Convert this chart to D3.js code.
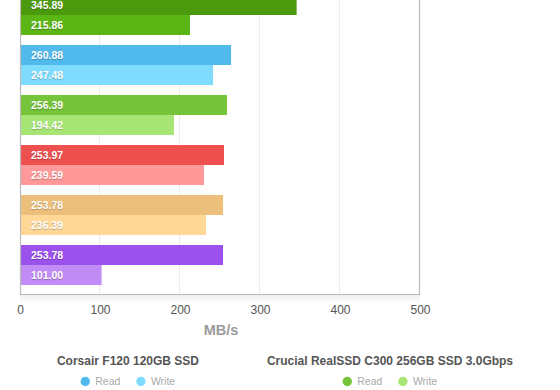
<!DOCTYPE html>
<html>
<head>
<meta charset="utf-8">
<script src="https://cdn.jsdelivr.net/npm/d3@7"></script>
<style>
  html, body { margin: 0; padding: 0; background: #fff; }
  svg { display: block; font-family: "Liberation Sans", Arial, Helvetica, sans-serif; }
  .barlabel { text-shadow: 0 1px 1px rgba(0,0,0,0.25); }
</style>
</head>
<body>
<svg id="chart" width="560" height="390"></svg>
<script>
// ---- data ----
const categories = ["Drive A", "Corsair F120 120GB SSD", "Crucial RealSSD C300 256GB SSD 3.0Gbps", "Drive D", "Drive E", "Drive F"];
const readValues  = [345.8, 263.8, 258.8, 255.0, 253.8, 253.8];
const writeValues = [212.5, 241.3, 192.5, 230.0, 232.5, 102.0];
const readLabels  = ["345.89", "260.88", "256.39", "253.97", "253.78", "253.78"];
const writeLabels = ["215.86", "247.48", "194.42", "239.59", "236.39", "101.00"];
const readColors  = ["#4b9a0e", "#4fbaeb", "#75c43a", "#ee5050", "#ecc07b", "#9b51ec"];
const writeColors = ["#5ab515", "#80dcff", "#a7e675", "#ff9898", "#ffd898", "#c28cf6"];
const xTicks = [0, 100, 200, 300, 400, 500];
const axisTitle = "MB/s";
const legendGroups = [
  { title: "Corsair F120 120GB SSD", index: 1 },
  { title: "Crucial RealSSD C300 256GB SSD 3.0Gbps", index: 2 }
];
const seriesNames = ["Read", "Write"];

// ---- layout ----
const left = 20, right = 420, bottom = 294;
const svg = d3.select("#chart");

const x = d3.scaleLinear().domain([0, 500]).range([left, right]);
const y = d3.scaleBand().domain(categories).range([-10, 290]).paddingInner(0.2).paddingOuter(0.1);
const sub = d3.scaleBand().domain(seriesNames).range([0, y.bandwidth()]);

// shadow below plot
const defs = svg.append("defs");
const grad = defs.append("linearGradient").attr("id", "shadow").attr("x1", 0).attr("y1", 0).attr("x2", 0).attr("y2", 1);
grad.append("stop").attr("offset", "0%").attr("stop-color", "#ececec");
grad.append("stop").attr("offset", "100%").attr("stop-color", "#ffffff");
svg.append("rect").attr("x", left).attr("y", bottom).attr("width", right - left).attr("height", 10).attr("fill", "url(#shadow)");

// gridlines
svg.append("g").selectAll("line").data(xTicks.filter(d => d > 0 && d < 500)).join("line")
  .attr("x1", d => Math.round(x(d)) - 0.5).attr("x2", d => Math.round(x(d)) - 0.5)
  .attr("y1", 0).attr("y2", bottom)
  .attr("stroke", "#ececec").attr("stroke-width", 1);

// bars
const rows = categories.map((c, i) => ({
  c, i,
  bars: [
    { s: "Read", v: readValues[i], label: readLabels[i], color: readColors[i] },
    { s: "Write", v: writeValues[i], label: writeLabels[i], color: writeColors[i] }
  ]
}));
const g = svg.append("g").selectAll("g").data(rows).join("g")
  .attr("transform", d => `translate(0,${y(d.c)})`);
g.selectAll("rect").data(d => d.bars).join("rect")
  .attr("x", x(0))
  .attr("y", d => sub(d.s))
  .attr("width", d => x(d.v) - x(0))
  .attr("height", sub.bandwidth())
  .attr("fill", d => d.color);
g.selectAll("text").data(d => d.bars).join("text")
  .attr("class", "barlabel")
  .attr("x", x(0) + 11)
  .attr("y", d => sub(d.s) + sub.bandwidth() / 2)
  .attr("dy", "0.35em")
  .attr("fill", "#fff")
  .attr("font-size", 10.5)
  .attr("font-weight", "bold")
  .text(d => d.label);

// frame
svg.append("path")
  .attr("d", `M${left + 0.5},0 V${bottom + 0.5} H${right - 0.5} V0`)
  .attr("fill", "none").attr("stroke", "#bbbbbb").attr("stroke-width", 1.2);

// x axis labels
const xAxis = d3.axisBottom(x).tickValues(xTicks).tickSize(0).tickPadding(0).tickFormat(d3.format("d"));
const ax = svg.append("g").attr("transform", `translate(0,${bottom + 11})`).call(xAxis);
ax.select(".domain").remove();
ax.selectAll("text").attr("font-size", 12).attr("fill", "#555").attr("font-family", "'Liberation Sans', Arial, sans-serif");

svg.append("text").attr("x", 221).attr("y", 335).attr("text-anchor", "middle")
  .attr("font-size", 14.5).attr("font-weight", "bold").attr("fill", "#9a9a9a").text(axisTitle);

// legends
const legendCenters = [128, 390];
legendGroups.forEach((lg, k) => {
  const cx = legendCenters[k];
  svg.append("text").attr("x", cx).attr("y", 365).attr("text-anchor", "middle")
    .attr("font-size", 12).attr("font-weight", "bold").attr("fill", "#555").text(lg.title);
  const item = svg.append("g");
  const colors = [readColors[lg.index], writeColors[lg.index]];
  let pos = 0;
  const parts = [];
  seriesNames.forEach((s, j) => {
    const gg = item.append("g").attr("transform", `translate(${pos},0)`);
    gg.append("circle").attr("cx", 4.5).attr("cy", 0).attr("r", 4.7).attr("fill", colors[j]);
    const t = gg.append("text").attr("x", 14.5).attr("y", 0).attr("dy", "0.35em")
      .attr("font-size", 10.5).attr("fill", "#aaa").text(s);
    const w = t.node().getComputedTextLength();
    pos += 14.5 + w + 16;
  });
  const total = pos - 16;
  item.attr("transform", `translate(${cx - total / 2},381.5)`);
});
</script>
</body>
</html>
